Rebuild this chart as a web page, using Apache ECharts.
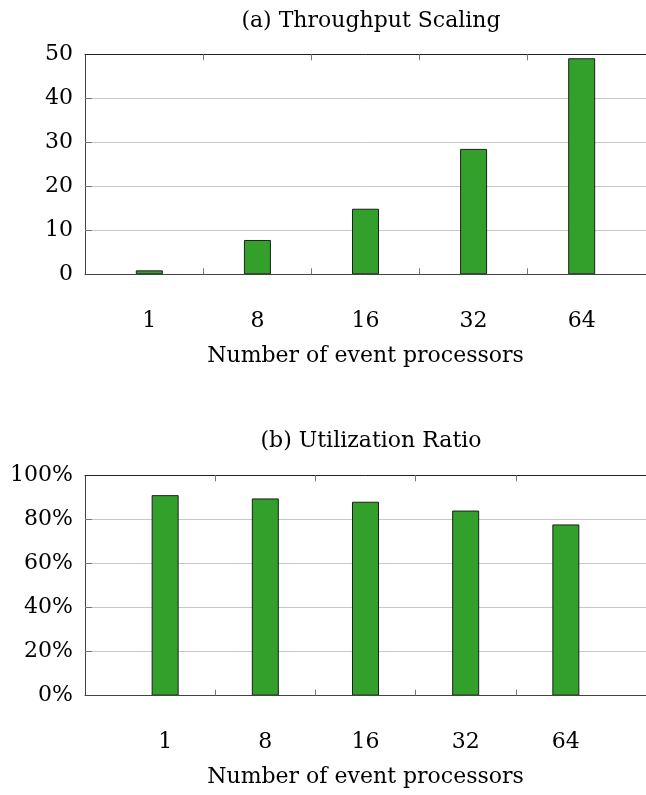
<!DOCTYPE html>
<html>
<head>
<meta charset="utf-8">
<script src="https://cdn.jsdelivr.net/npm/echarts@6/dist/echarts.min.js"></script>
<style>
  html, body { margin: 0; padding: 0; background: #fff; }
  #chart { width: 646px; height: 795px; }
</style>
</head>
<body>
<div id="chart"></div>
<script>
// ---- data ----
const categories = ['1', '8', '16', '32', '64'];
const throughput = [0.9, 7.8, 14.9, 28.5, 49.1];
const utilization = [91, 89.5, 88, 84, 77.7];
const titleA = '(a) Throughput Scaling';
const titleB = '(b) Utilization Ratio';
const xName = 'Number of event processors';
const throughputTicks = { min: 0, max: 50, interval: 10 };
const utilizationTicks = { min: 0, max: 100, interval: 20 };

const FONT = 'DejaVu Serif';
const FS = 22;
const catIdx = categories.map((c, i) => i);
const bounds = categories.slice(1).map((c, i) => i + 0.5);

function bottomX(grid, min, max) {
  return {
    gridIndex: grid, type: 'value', position: 'bottom', min: min, max: max, z: 3,
    axisLine: { show: true, onZero: false, lineStyle: { color: '#444', width: 1 } },
    axisTick: { show: true, inside: true, length: 6, customValues: bounds, lineStyle: { color: '#777' } },
    axisLabel: { show: true, customValues: catIdx, formatter: v => categories[Math.round(v)],
      margin: 36, fontSize: FS, fontFamily: FONT, color: '#000' },
    splitLine: { show: false },
    name: xName, nameLocation: 'middle', nameGap: 71,
    nameTextStyle: { fontSize: FS, fontFamily: FONT, color: '#000' }
  };
}
function topX(grid, min, max) {
  return {
    gridIndex: grid, type: 'value', position: 'top', min: min, max: max, z: 3,
    axisLine: { show: true, onZero: false, lineStyle: { color: '#222', width: 1 } },
    axisTick: { show: true, inside: true, length: 6, customValues: bounds, lineStyle: { color: '#777' } },
    axisLabel: { show: false },
    splitLine: { show: false }
  };
}
function yAx(grid, t, fmt) {
  return {
    gridIndex: grid, type: 'value', position: 'left', min: t.min, max: t.max, interval: t.interval,
    axisLine: { show: true, onZero: false, lineStyle: { color: '#444', width: 1 } },
    axisTick: { show: true, inside: true, length: 7, lineStyle: { color: '#777' } },
    axisLabel: { margin: 12, fontSize: FS, fontFamily: FONT, color: '#000', formatter: fmt },
    splitLine: { show: true, lineStyle: { color: '#c8c8c8', width: 1 } }
  };
}
const barStyle = { color: '#33a02c', borderColor: '#1e1e1e', borderWidth: 1 };

const chart = echarts.init(document.getElementById('chart'), null, { renderer: 'canvas' });
chart.setOption({
  animation: false,
  backgroundColor: '#fff',
  grid: [
    { left: 85, top: 54.3, width: 572, height: 220 },
    { left: 85, top: 475.3, width: 572, height: 220.3 }
  ],
  graphic: [
    { type: 'text', x: 371, y: 21, style: { text: titleA, font: FS + 'px "' + FONT + '"', fill: '#000', align: 'center', verticalAlign: 'middle' } },
    { type: 'text', x: 371, y: 441, style: { text: titleB, font: FS + 'px "' + FONT + '"', fill: '#000', align: 'center', verticalAlign: 'middle' } }
  ],
  xAxis: [
    bottomX(0, -0.595, 4.595),
    topX(0, -0.595, 4.595),
    bottomX(1, -0.8, 4.8),
    topX(1, -0.8, 4.8)
  ],
  yAxis: [
    yAx(0, throughputTicks, '{value}'),
    yAx(1, utilizationTicks, '{value}%')
  ],
  series: [
    { type: 'bar', xAxisIndex: 0, yAxisIndex: 0, barWidth: 27, z: 2,
      data: throughput.map((v, i) => [i, v]), itemStyle: barStyle },
    { type: 'bar', xAxisIndex: 2, yAxisIndex: 1, barWidth: 27, z: 2,
      data: utilization.map((v, i) => [i, v]), itemStyle: barStyle }
  ]
});
</script>
</body>
</html>
